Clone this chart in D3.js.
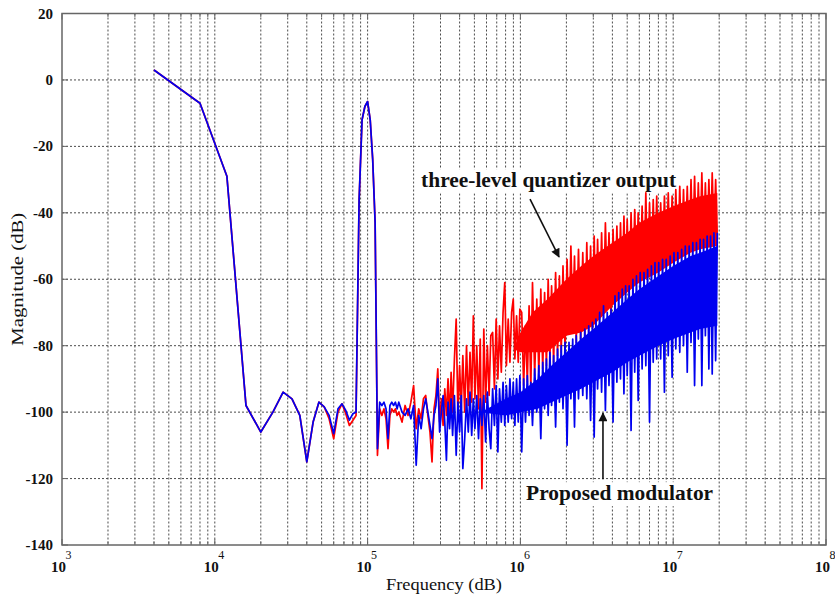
<!DOCTYPE html>
<html>
<head>
<meta charset="utf-8">
<script src="https://cdn.jsdelivr.net/npm/d3@7"></script>
<style>
  body { margin: 0; background: #fff; }
  svg { display: block; }
</style>
</head>
<body>
<div id="chart"></div>
<script>
// Output spectrum: three-level quantizer output (red) vs proposed modulator (blue)

// signal band, 4 kHz FFT bins (kHz)
const toneFreqKHz = [4, 8, 12, 16, 20, 24, 28, 32, 36, 40,
    44, 48, 52, 56, 60, 64, 68, 72, 76, 80,
    84, 88, 92, 96, 100, 104, 108, 112];
const toneBlue = [3, -7, -29, -98, -106, -100, -94, -96, -101, -115,
    -103, -97, -98.4, -101, -106.5, -99, -97.5, -99.5, -102.4, -100.5,
    -100, -36, -12, -8, -6.5, -12, -24, -43];
const toneRed = [3, -7, -29, -98, -106, -100, -94, -96, -101, -115,
    -103, -97, -98.4, -102, -108, -100, -97.5, -100.5, -104, -102.5,
    -101, -36, -12, -8, -6.5, -12, -24, -43];

// shaped noise region (kHz)
const noiseFreqKHz = [
    116, 120, 124, 128, 132, 136, 140, 144, 148, 152,
    156, 160, 168, 176, 184, 192, 200, 208, 216, 224,
    232, 240, 248, 256, 264, 272, 280, 288, 296,
    304, 312, 320, 328, 336, 344, 352, 360, 370, 380,
    390, 400, 410, 420, 432, 444, 456, 468, 480, 492,
    504, 518, 532, 546, 560, 576, 592, 608, 624, 640,
    658, 676, 694, 712, 730, 750, 770, 790, 810, 832,
    854, 876, 898, 920, 944, 968, 992,
    1020, 1050, 1080, 1110, 1140, 1170, 1200, 1240, 1280, 1320,
    1360, 1400, 1440, 1480, 1520, 1560, 1600, 1650, 1700, 1750,
    1800, 1850, 1900, 1960, 2020, 2080, 2140, 2200, 2260, 2320,
    2400, 2480, 2560, 2640, 2720, 2800, 2880, 2960, 3040, 3120,
    3200, 3300, 3400, 3500, 3600, 3700, 3800, 3920, 4040, 4160,
    4280, 4400, 4520, 4640, 4760, 4880, 5000, 5150, 5300, 5450,
    5600, 5750, 5900, 6080, 6260, 6440, 6620, 6800, 7000, 7200,
    7400, 7600, 7800, 8040, 8280, 8520, 8760, 9000, 9280, 9560,
    9840, 10120, 10400, 10720, 11040, 11360, 11680, 12000, 12360, 12720,
    13080, 13440, 13800, 14200, 14600, 15000, 15400, 15800, 16240, 16680,
    17120, 17560, 18000, 18480, 18960, 19440
];
const noiseRed = [
    -113, -99, -101, -99, -102, -111, -101, -99, -100, -99,
    -101, -100, -103, -98, -101, -97, -92, -105, -99, -102,
    -96, -95, -101, -106, -115, -99, -95, -87, -103,
    -96, -104, -93, -101, -90, -102, -88, -100, -84, -72,
    -101, -86, -99, -83, -100, -80, -98, -82, -97, -71,
    -96, -80, -99, -78, -123, -75, -97, -80, -95, -77,
    -76, -93, -72, -90, -74, -88, -70, -61, -86, -72,
    -85, -70, -66, -84, -71, -85, -69,
    -70, -92, -74, -91, -68, -93, -61, -89, -66, -88,
    -63, -87, -64, -86, -60, -84, -62, -85, -58, -83,
    -59, -82, -56, -81, -54, -76, -50, -72, -53, -79,
    -51, -78, -52, -77, -49, -76, -50, -75, -47, -74,
    -48, -72, -46, -70, -43, -64, -46, -71, -45, -67,
    -44, -66, -43, -65, -41, -64, -42, -64, -40, -62,
    -39, -61, -40, -60, -38, -60, -34, -59, -37, -58,
    -36, -57, -35, -57, -37, -56, -35, -56, -34, -55,
    -35, -54, -33, -54, -32, -53, -33, -52, -32, -52,
    -30, -51, -29, -51, -31, -50, -28, -50, -31, -49,
    -30, -49, -28, -48, -30, -48
];
const noiseBlue = [
    -111, -97, -98, -97, -99, -108, -98, -97, -98, -97,
    -99, -97, -100, -101, -99, -102, -98, -116, -101, -105,
    -99, -96, -100, -104, -108, -101, -98, -90, -106,
    -100, -95, -103, -114.5, -97, -105, -96, -107, -95, -113,
    -97, -106, -95, -117, -108, -96, -106, -94, -107, -96,
    -105, -95, -108, -96, -104, -95, -109, -94, -105, -111,
    -93, -104, -92, -112, -93, -103, -91, -104, -92, -103,
    -90, -102, -91, -104, -90, -103, -89,
    -112, -90, -103, -89, -101, -91, -104, -87, -100, -86,
    -108, -85, -99, -84, -101, -82, -98, -83, -104.5, -81,
    -97, -80, -99, -79, -110, -79, -96, -78, -104.5, -77,
    -96, -76, -95, -75, -96, -74, -102.5, -73, -107.5, -72,
    -93, -70, -94, -68, -99.5, -70, -92, -69, -103, -65,
    -91, -64, -90, -63, -94.5, -62, -89, -62, -105.5, -60,
    -88, -59, -96.5, -58, -87, -58, -86, -57, -103, -56,
    -85, -55, -84, -55, -84, -54, -94, -54, -83, -53,
    -89.5, -52, -81, -52, -82, -51, -80, -50, -88, -50,
    -79, -49, -92, -49, -78, -48, -92, -48, -77, -47,
    -87, -47, -88.5, -46, -84.5, -46
];

// solid core of the dense noise bands (kHz, dB)
const redBandFreqKHz = [900, 1000, 1200, 1500, 2000, 2500, 3000, 4000, 5000, 6000, 8000, 10000, 13000, 15000, 19440];
const redBandTop = [-81, -76, -70, -66, -60, -56, -53, -49, -46, -43, -40, -38, -36, -35, -34];
const redBandBot = [-81, -82, -82, -82, -77, -76, -74, -68, -64, -61, -58, -55, -52, -51, -50];
const blueBandFreqKHz = [550, 800, 1000, 1300, 1600, 2000, 2500, 3000, 4000, 5000, 6000, 8000, 10000, 13000, 15000, 19440];
const blueBandTop = [-100, -96, -94, -90, -86, -82, -78, -75, -70, -66, -63, -59, -56, -53, -52, -50];
const blueBandBot = [-100, -101, -100, -99, -97, -95, -93, -91, -88, -85, -83, -80, -78, -76, -75, -74];

const yTicks = [20, 0, -20, -40, -60, -80, -100, -120, -140];
const xDecades = [1e3, 1e4, 1e5, 1e6, 1e7, 1e8];

// annotations, placed in data coordinates
const notes = [
    { text: 'three-level quantizer output', f: 2.24e5, db: -32.3, len: 255 },
    { text: 'Proposed modulator', f: 1.09e6, db: -126.5, len: 187 }
];
const arrows = [
    { from: [1.156e6, -35.9], to: [1.79e6, -53.3] },
    { from: [3.47e6, -120.2], to: [3.47e6, -100.3] }
];

const width = 835, height = 598;
const margin = { top: 13.5, right: 9, bottom: 53, left: 62 };
const serif = '"Liberation Serif", "Times New Roman", serif';
const RED = '#ff0000', BLUE = '#0000f0';

const svg = d3.select('#chart').append('svg')
    .attr('width', width)
    .attr('height', height);

const x = d3.scaleLog()
    .domain([1e3, 1e8])
    .range([margin.left, width - margin.right]);
const y = d3.scaleLinear()
    .domain([-140, 20])
    .range([height - margin.bottom, margin.top]);

const plotTop = margin.top, plotBottom = height - margin.bottom;
const plotLeft = margin.left, plotRight = width - margin.right;

// grid
const grid = svg.append('g')
    .attr('stroke', '#4a4a4a')
    .attr('stroke-width', 1)
    .attr('stroke-dasharray', '2,2');

grid.selectAll('.vg')
    .data(x.ticks().filter(v => v > 1e3 && v < 1e8))
    .join('line')
    .attr('class', 'vg')
    .attr('x1', d => x(d)).attr('x2', d => x(d))
    .attr('y1', plotTop).attr('y2', plotBottom);

grid.selectAll('.hg')
    .data(yTicks.filter(v => v > -140 && v < 20))
    .join('line')
    .attr('class', 'hg')
    .attr('x1', plotLeft).attr('x2', plotRight)
    .attr('y1', d => y(d)).attr('y2', d => y(d));

// white boxes behind the annotation text
const noteG = svg.append('g');
notes.forEach(n => {
    noteG.append('rect')
        .attr('x', x(n.f) - 4)
        .attr('y', y(n.db) - 18)
        .attr('width', n.len + 8)
        .attr('height', 24)
        .attr('fill', '#fff');
});

// series
const red = toneFreqKHz.map((f, i) => ({ f: f * 1000, v: toneRed[i] }))
    .concat(noiseFreqKHz.map((f, i) => ({ f: f * 1000, v: noiseRed[i] })));
const blue = toneFreqKHz.map((f, i) => ({ f: f * 1000, v: toneBlue[i] }))
    .concat(noiseFreqKHz.map((f, i) => ({ f: f * 1000, v: noiseBlue[i] })));
const redBand = redBandFreqKHz.map((f, i) => ({ f: f * 1000, hi: redBandTop[i], lo: redBandBot[i] }));
const blueBand = blueBandFreqKHz.map((f, i) => ({ f: f * 1000, hi: blueBandTop[i], lo: blueBandBot[i] }));

const line = d3.line()
    .x(d => x(d.f))
    .y(d => y(d.v));
const band = d3.area()
    .x(d => x(d.f))
    .y0(d => y(d.lo))
    .y1(d => y(d.hi));

function drawSeries(pts, core, color) {
    svg.append('path')
        .datum(core)
        .attr('fill', color)
        .attr('stroke', 'none')
        .attr('d', band);
    svg.append('path')
        .datum(pts)
        .attr('fill', 'none')
        .attr('stroke', color)
        .attr('stroke-width', 1.7)
        .attr('stroke-linejoin', 'round')
        .attr('d', line);
}
drawSeries(red, redBand, RED);
drawSeries(blue, blueBand, BLUE);

// frame and inner ticks
svg.append('rect')
    .attr('x', plotLeft).attr('y', plotTop)
    .attr('width', plotRight - plotLeft).attr('height', plotBottom - plotTop)
    .attr('fill', 'none')
    .attr('stroke', '#666')
    .attr('stroke-width', 1.5);

const ticks = svg.append('g').attr('stroke', '#666').attr('stroke-width', 1);
const isDecade = v => Math.abs(Math.log10(v) - Math.round(Math.log10(v))) < 1e-9;
x.ticks().forEach(v => {
    const len = isDecade(v) ? 6 : 3.5;
    ticks.append('line').attr('x1', x(v)).attr('x2', x(v)).attr('y1', plotBottom).attr('y2', plotBottom - len);
    ticks.append('line').attr('x1', x(v)).attr('x2', x(v)).attr('y1', plotTop).attr('y2', plotTop + len);
});
yTicks.forEach(v => {
    ticks.append('line').attr('x1', plotLeft).attr('x2', plotLeft + 6).attr('y1', y(v)).attr('y2', y(v));
    ticks.append('line').attr('x1', plotRight).attr('x2', plotRight - 6).attr('y1', y(v)).attr('y2', y(v));
});

// tick labels
svg.append('g').selectAll('text')
    .data(yTicks)
    .join('text')
    .attr('x', plotLeft - 9)
    .attr('y', d => y(d) + 5)
    .attr('text-anchor', 'end')
    .attr('font-family', serif)
    .attr('font-weight', 'bold')
    .attr('font-size', '15px')
    .attr('fill', '#111')
    .text(d => String(d));

const xl = svg.append('g').selectAll('g')
    .data(xDecades)
    .join('g')
    .attr('transform', d => `translate(${x(d)},0)`);
xl.append('text')
    .attr('x', 4)
    .attr('y', 572)
    .attr('text-anchor', 'end')
    .attr('font-family', serif)
    .attr('font-weight', 'bold')
    .attr('font-size', '15px')
    .attr('fill', '#111')
    .text('10');
xl.append('text')
    .attr('x', 3.5)
    .attr('y', 559)
    .attr('font-family', serif)
    .attr('font-size', '12px')
    .attr('fill', '#111')
    .text(d => Math.round(Math.log10(d)));

// axis titles
svg.append('text')
    .attr('x', (plotLeft + plotRight) / 2)
    .attr('y', 590)
    .attr('text-anchor', 'middle')
    .attr('font-family', serif)
    .attr('font-size', '17px')
    .attr('fill', '#111')
    .attr('textLength', 116)
    .attr('lengthAdjust', 'spacingAndGlyphs')
    .text('Frequency (dB)');

svg.append('text')
    .attr('transform', `translate(23,${(plotTop + plotBottom) / 2}) rotate(-90)`)
    .attr('text-anchor', 'middle')
    .attr('font-family', serif)
    .attr('font-size', '17px')
    .attr('fill', '#111')
    .attr('textLength', 133)
    .attr('lengthAdjust', 'spacingAndGlyphs')
    .text('Magnitude (dB)');

// annotations
notes.forEach(n => {
    svg.append('text')
        .attr('x', x(n.f))
        .attr('y', y(n.db))
        .attr('font-family', serif)
        .attr('font-weight', 'bold')
        .attr('font-size', '20px')
        .attr('fill', '#111')
        .attr('textLength', n.len)
        .attr('lengthAdjust', 'spacingAndGlyphs')
        .text(n.text);
});

svg.append('defs').append('marker')
    .attr('id', 'head')
    .attr('viewBox', '0 0 10 10')
    .attr('refX', 9).attr('refY', 5)
    .attr('markerWidth', 10).attr('markerHeight', 9)
    .attr('markerUnits', 'userSpaceOnUse')
    .attr('orient', 'auto')
    .append('path')
    .attr('d', 'M0,0 L10,5 L0,10 Z')
    .attr('fill', '#111');

arrows.forEach(a => {
    svg.append('line')
        .attr('x1', x(a.from[0])).attr('y1', y(a.from[1]))
        .attr('x2', x(a.to[0])).attr('y2', y(a.to[1]))
        .attr('stroke', '#111')
        .attr('stroke-width', 1.6)
        .attr('marker-end', 'url(#head)');
});
</script>
</body>
</html>
